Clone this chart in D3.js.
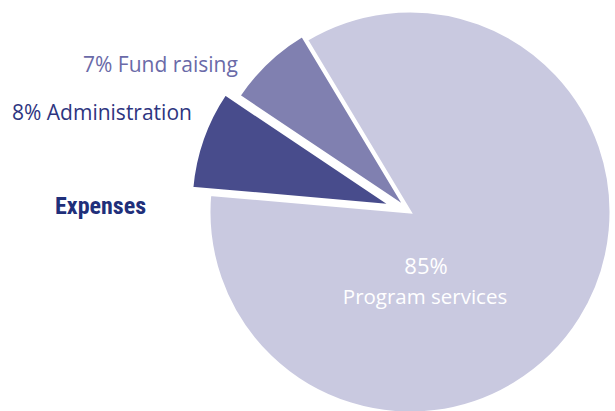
<!DOCTYPE html>
<html><head><meta charset="utf-8">
<script src="https://cdn.jsdelivr.net/npm/d3@7/dist/d3.min.js"></script>
<style>body{margin:0;background:#fff;}svg{display:block;}</style>
</head><body>
<svg id="c" width="615" height="411"></svg>
<script>
const categories = ["Program services", "Administration", "Fund raising"];
const values = [85, 8, 7];
const labels = ["Program services", "Administration", "Fund raising"];
const colors = ["#c9c9e0", "#484c8c", "#8080b0"];
const explode = [0, 19, 6];
const title = "Expenses";

const svg = d3.select("#c");
const cx = 410, cy = 212, R = 201;
const pie = d3.pie().sort(null).value(d => d).startAngle(-31 * Math.PI / 180).endAngle(329 * Math.PI / 180);
const arcs = pie(values);
const arc = d3.arc().innerRadius(0).outerRadius(R);
const g = svg.append("g").attr("transform", `translate(${cx},${cy})`);
g.selectAll("path").data(arcs).join("path")
  .attr("d", arc)
  .attr("fill", (d, i) => colors[i])
  .attr("stroke", "#fff").attr("stroke-width", 3).attr("stroke-linejoin", "miter")
  .attr("transform", (d, i) => {
    const a = (d.startAngle + d.endAngle) / 2;
    return `translate(${Math.sin(a) * explode[i]},${-Math.cos(a) * explode[i]})`;
  });

const font = "'Open Sans', Lato, sans-serif";
g.append("text").attr("x", 16).attr("y", 62).attr("text-anchor", "middle")
  .attr("font-family", font).attr("font-size", 22).attr("fill", "#fff")
  .text(values[0] + "%");
g.append("text").attr("x", 15).attr("y", 92).attr("text-anchor", "middle")
  .attr("font-family", font).attr("font-size", 20.5).attr("fill", "#fff")
  .text(labels[0]);

svg.append("text").attr("x", 83).attr("y", 72)
  .attr("font-family", font).attr("font-size", 21).attr("fill", "#6a6aa8")
  .text(values[2] + "% " + labels[2]);
svg.append("text").attr("x", 12).attr("y", 120)
  .attr("font-family", font).attr("font-size", 21).attr("fill", "#2e3580")
  .text(values[1] + "% " + labels[1]);
svg.append("text").attr("x", 55).attr("y", 214)
  .attr("font-family", "'Liberation Sans Narrow', 'Roboto Condensed', sans-serif")
  .attr("font-weight", "bold").attr("font-size", 24).attr("fill", "#1f2f7a")
  .text(title);
</script>
</body></html>
